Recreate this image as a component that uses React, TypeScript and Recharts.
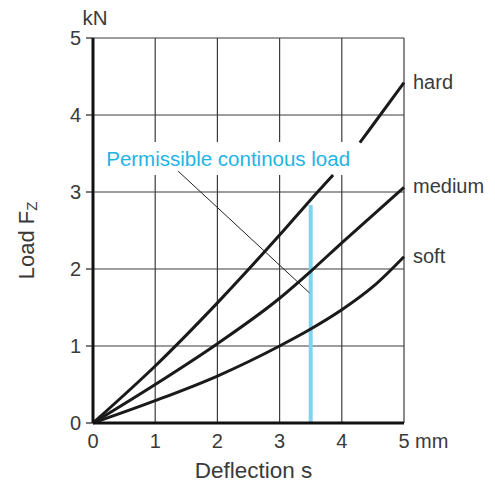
import React from 'react';
import {
  LineChart, Line, XAxis, YAxis, CartesianGrid, ReferenceLine, ReferenceArea, LabelList,
} from 'recharts';

// readings (deflection in mm, load in kN)
// null = no reading there (hard curve is interrupted by the label box)
const deflection = [0, 1, 2, 3, 3.5, 3.86, 4, 4.29, 4.5, 5];
const hard = [0, 0.74, 1.56, 2.44, 2.9, 3.22, null, 3.64, 3.87, 4.42];
const medium = [0, 0.5, 1.03, 1.62, 1.97, null, 2.34, null, 2.7, 3.06];
const soft = [0, 0.29, 0.61, 1.0, 1.22, null, 1.47, null, 1.77, 2.16];

const xTicks = [0, 1, 2, 3, 4, 5];
const yTicks = [0, 1, 2, 3, 4, 5];

// permissible continuous load marker
const permissibleX = 3.5;
const permissibleTop = 2.83;
const leaderFrom = { x: 1.37, y: 3.27 };
const leaderTo = { x: 3.48, y: 1.69 };
const labelBoxX = [0.1, 4.8];
const labelBoxY = [3.22, 3.65];

const data = deflection.map((s, i) => ({ s, hard: hard[i], medium: medium[i], soft: soft[i] }));

const FONT = '"Liberation Sans", Arial, sans-serif';
const TEXT = '#3a3a3a';
const CYAN = '#1fb4e6';

const XTick = ({ x, y, payload }: any) => (
  <g>
    <text x={x} y={y + 18} textAnchor="middle" dominantBaseline="central" fontSize={20} fontFamily={FONT} fill={TEXT}>
      {payload.value}
    </text>
    {payload.value === 5 && (
      <text x={x + 11} y={y + 18} textAnchor="start" dominantBaseline="central" fontSize={20} fontFamily={FONT} fill={TEXT}>
        mm
      </text>
    )}
  </g>
);

const YTick = ({ x, y, payload }: any) => (
  <text x={x} y={y} textAnchor="end" dominantBaseline="central" fontSize={20} fontFamily={FONT} fill={TEXT}>
    {payload.value}
  </text>
);

const endLabel = (name: string) => (props: any) => {
  const { x, y, index } = props;
  if (index !== data.length - 1) return null;
  return (
    <text x={x + 9} y={y - 1} dominantBaseline="central" fontSize={20} fontFamily={FONT} fill={TEXT}>
      {name}
    </text>
  );
};

const YLabel = (props: any) => {
  const { x, y, width, height } = props.viewBox;
  const cx = x + 26;
  const cy = y + height / 2 + 10;
  return (
    <g>
      <text x={x + width + 2} y={y - 21} textAnchor="middle" dominantBaseline="central" fontSize={20.5} fontFamily={FONT} fill={TEXT}>
        kN
      </text>
      <text transform={`translate(${cx},${cy}) rotate(-90)`} textAnchor="middle" dominantBaseline="central" fontSize={22} fontFamily={FONT} fill={TEXT}>
        Load F<tspan fontSize={15} dy={5}>Z</tspan>
      </text>
    </g>
  );
};

const XLabel = (props: any) => {
  const { x, y, width } = props.viewBox;
  return (
    <text x={x + width / 2 + 5} y={y + 47} textAnchor="middle" dominantBaseline="central" fontSize={22.5} fontFamily={FONT} fill={TEXT}>
      Deflection s
    </text>
  );
};

export default function App() {
  return (
    <div style={{ position: 'absolute', left: 0, top: 0, width: 495, height: 486, background: '#fff' }}>
      <LineChart width={495} height={486} data={data} margin={{ top: 38, right: 91, left: 0, bottom: 0 }}>
        <CartesianGrid stroke="#3c3c3c" strokeWidth={1.2} />
        <XAxis
          dataKey="s"
          type="number"
          domain={[0, 5]}
          ticks={xTicks}
          height={63}
          axisLine={{ stroke: '#111', strokeWidth: 3 }}
          tickLine={false}
          tickSize={0}
          tickMargin={0}
          tick={<XTick />}
          label={{ content: <XLabel /> }}
        />
        <YAxis
          type="number"
          domain={[0, 5]}
          ticks={yTicks}
          width={93}
          axisLine={{ stroke: '#111', strokeWidth: 3 }}
          tickLine={{ stroke: '#222', strokeWidth: 1.2 }}
          tickSize={7}
          tickMargin={5}
          tick={<YTick />}
          label={{ content: <YLabel /> }}
        />
        <ReferenceArea
          x1={labelBoxX[0]}
          x2={labelBoxX[1]}
          y1={labelBoxY[0]}
          y2={labelBoxY[1]}
          fill="#fff"
          fillOpacity={1}
          stroke="none"
          label={{ value: 'Permissible continous load', position: 'insideLeft', offset: 7, fontSize: 20.5, fontFamily: FONT, fill: CYAN }}
        />
        <ReferenceLine
          segment={[{ x: permissibleX, y: 0 }, { x: permissibleX, y: permissibleTop }]}
          stroke="#82d3f2"
          strokeWidth={4}
        />
        <ReferenceLine segment={[leaderFrom, leaderTo]} stroke="#222" strokeWidth={1} />
        <Line type="monotone" dataKey="soft" stroke="#1a1a1a" strokeWidth={3} dot={false} connectNulls isAnimationActive={false}>
          <LabelList dataKey="soft" content={endLabel('soft')} />
        </Line>
        <Line type="monotone" dataKey="medium" stroke="#1a1a1a" strokeWidth={3} dot={false} connectNulls isAnimationActive={false}>
          <LabelList dataKey="medium" content={endLabel('medium')} />
        </Line>
        <Line type="monotone" dataKey="hard" stroke="#1a1a1a" strokeWidth={3} dot={false} isAnimationActive={false}>
          <LabelList dataKey="hard" content={endLabel('hard')} />
        </Line>
      </LineChart>
    </div>
  );
}
